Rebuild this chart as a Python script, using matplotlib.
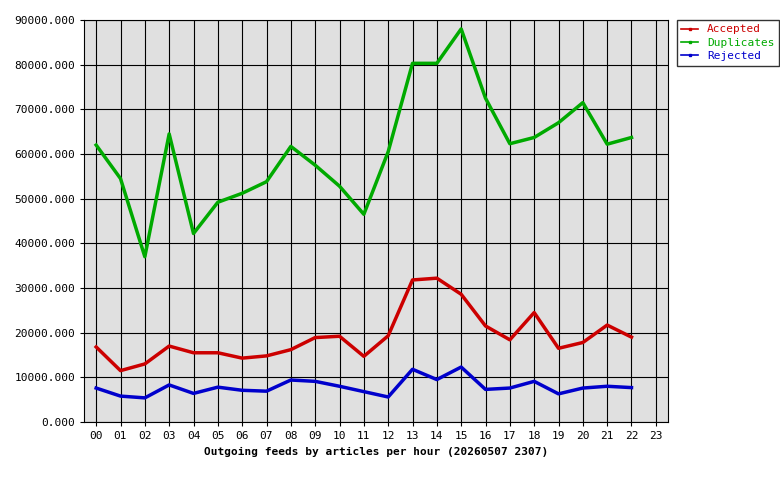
import matplotlib
matplotlib.use("Agg")
import matplotlib.pyplot as plt

hours = ["%02d" % h for h in range(24)]
accepted = [16800, 11500, 13000, 17000, 15500, 15500, 14300, 14800, 16200, 18900, 19200, 14700,
            19300, 31800, 32200, 28600, 21500, 18400, 24500, 16500, 17800, 21700, 19000]
duplicates = [62000, 54500, 37000, 64500, 42200, 49200, 51200, 53800, 61700, 57500, 52800, 46500,
              60500, 80300, 80300, 88000, 72500, 62300, 63700, 67000, 71500, 62200, 63700]
rejected = [7600, 5800, 5400, 8300, 6400, 7800, 7100, 6900, 9400, 9100, 8000, 6800,
            5600, 11800, 9500, 12300, 7300, 7600, 9100, 6300, 7600, 8000, 7700]

plt.rcParams['font.family'] = 'DejaVu Sans Mono'
fig = plt.figure(figsize=(7.8, 4.8), dpi=100)
ax = fig.add_axes([84/780, 58/480, 584/780, 402/480])
ax.set_facecolor('#e0e0e0')

x = list(range(len(accepted)))
ax.plot(x, accepted, color='#cc0000', lw=2.5, label='Accepted')
ax.plot(x, duplicates, color='#00aa00', lw=2.5, label='Duplicates')
ax.plot(x, rejected, color='#0000cc', lw=2.5, label='Rejected')

ax.set_xlim(-0.5, 23.5)
ax.set_ylim(0, 90000)
ax.set_xticks(range(24))
ax.set_xticklabels(hours, fontsize=8)
ax.set_yticks(range(0, 90001, 10000))
ax.set_yticklabels(["%d.000" % v for v in range(0, 90001, 10000)], fontsize=8)
ax.grid(True, color='black', lw=0.8)
ax.tick_params(length=3)
ax.set_xlabel('Outgoing feeds by articles per hour (20260507 2307)', fontsize=8, fontweight='bold')

leg = ax.legend(loc='upper left', bbox_to_anchor=(1.015, 1.0), fontsize=8, frameon=True,
                fancybox=False, edgecolor='black', handlelength=1.5, borderaxespad=0,
                labelspacing=0.3)
for line, text in zip(leg.get_lines(), leg.get_texts()):
    line.set_linewidth(1.2)
    line.set_marker('s'); line.set_markersize(2)
    text.set_color(line.get_color())

fig.savefig('out.png', dpi=100)
